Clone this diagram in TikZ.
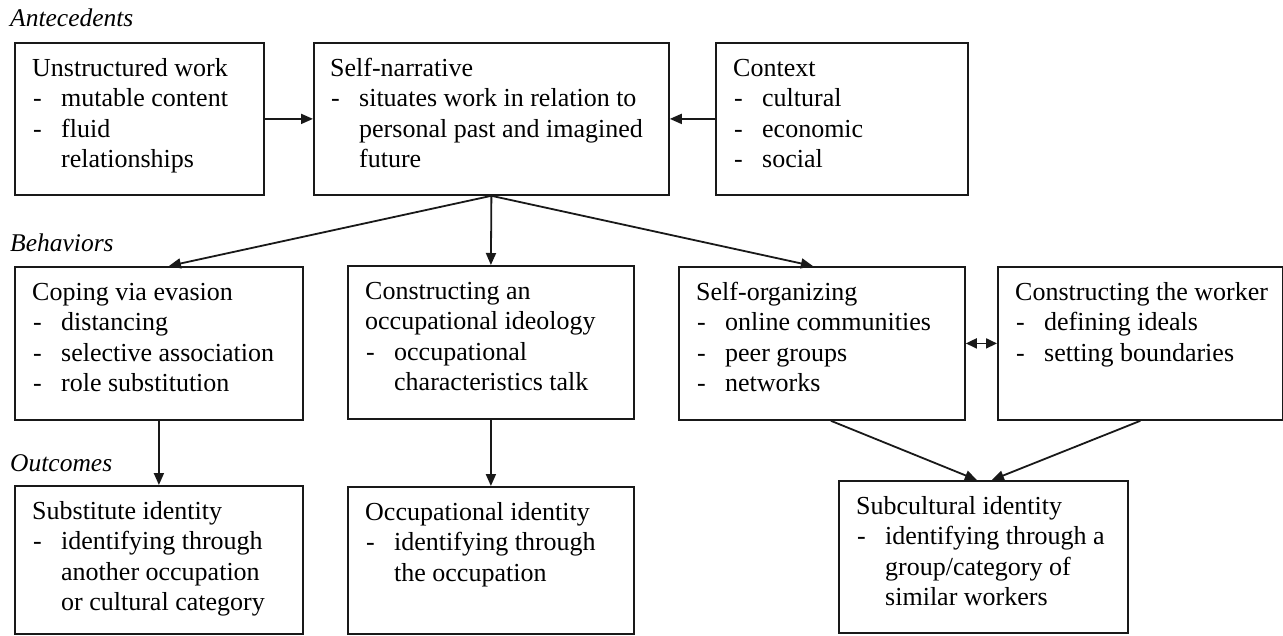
\documentclass[tikz,border=0pt]{standalone}
\usepackage{fontspec}
\setmainfont{Liberation Serif}
\usetikzlibrary{arrows.meta,calc}
\newcommand{\itm}[1]{\makebox[29pt][l]{\hspace*{1pt}-}#1}
\newcommand{\cnt}[1]{\hspace*{29pt}#1}
\tikzset{
  box/.style={draw=black!90, line width=1.8pt, inner sep=0pt, anchor=north west},
  txt/.style={anchor=base west, inner sep=0pt, font=\fontsize{26}{30.5}\selectfont},
  lbl/.style={anchor=base west, inner sep=0pt, font=\fontsize{25.5}{30}\selectfont\itshape},
  arr/.style={line width=1.8pt, draw=black!90, -{Triangle[length=12pt,width=10pt]}},
  darr/.style={line width=1.8pt, draw=black!90, {Triangle[length=11pt,width=10pt]}-{Triangle[length=11pt,width=10pt]}}
}
\newcommand{\boxtext}[2]{\begin{tabular}[t]{@{}l@{}}#2\end{tabular}}
\begin{document}
\begin{tikzpicture}[x=1pt,y=-1pt]
\useasboundingbox (0,0) rectangle (1283,635);
% section labels
\node[lbl] (lantec) at (10,26) {Antecedents};
\node[lbl] (lbehav) at (10,251) {Behaviors};
\node[lbl] (loutc) at (10,471) {Outcomes};
% boxes
\node[box, minimum width=249pt, minimum height=152pt] (ub) at (14,42) {};
\node[box, minimum width=355pt, minimum height=152pt] (sn) at (313,42) {};
\node[box, minimum width=252pt, minimum height=152pt] (ctx) at (715,42) {};
\node[box, minimum width=288pt, minimum height=153pt] (cope) at (14,266) {};
\node[box, minimum width=286pt, minimum height=153pt] (ideo) at (347,265) {};
\node[box, minimum width=286pt, minimum height=153pt] (sorg) at (678,266) {};
\node[box, minimum width=285pt, minimum height=153pt] (wrk) at (997,266) {};
\node[box, minimum width=288pt, minimum height=148pt] (subst) at (14,485) {};
\node[box, minimum width=286pt, minimum height=147pt] (occ) at (347,486) {};
\node[box, minimum width=289pt, minimum height=152pt] (subc) at (838,480) {};
% texts
\node[txt] (tub) at ([xshift=18pt,yshift=-34pt]ub.north west) {\boxtext{}{Unstructured work\\ \itm{mutable content}\\ \itm{fluid}\\ \cnt{relationships}}};
\node[txt] (tsn) at ([xshift=17pt,yshift=-34pt]sn.north west) {\boxtext{}{Self-narrative\\ \itm{situates work in relation to}\\ \cnt{personal past and imagined}\\ \cnt{future}}};
\node[txt] (tctx) at ([xshift=18pt,yshift=-34pt]ctx.north west) {\boxtext{}{Context\\ \itm{cultural}\\ \itm{economic}\\ \itm{social}}};
\node[txt] (tcope) at ([xshift=18pt,yshift=-34pt]cope.north west) {\boxtext{}{Coping via evasion\\ \itm{distancing}\\ \itm{selective association}\\ \itm{role substitution}}};
\node[txt] (tideo) at ([xshift=18pt,yshift=-34pt]ideo.north west) {\boxtext{}{Constructing an\\ occupational ideology\\ \itm{occupational}\\ \cnt{characteristics talk}}};
\node[txt] (tsorg) at ([xshift=18pt,yshift=-34pt]sorg.north west) {\boxtext{}{Self-organizing\\ \itm{online communities}\\ \itm{peer groups}\\ \itm{networks}}};
\node[txt] (twrk) at ([xshift=18pt,yshift=-34pt]wrk.north west) {\boxtext{}{Constructing the worker\\ \itm{defining ideals}\\ \itm{setting boundaries}}};
\node[txt] (tsubst) at ([xshift=18pt,yshift=-34pt]subst.north west) {\boxtext{}{Substitute identity\\ \itm{identifying through}\\ \cnt{another occupation}\\ \cnt{or cultural category}}};
\node[txt] (tocc) at ([xshift=18pt,yshift=-34pt]occ.north west) {\boxtext{}{Occupational identity\\ \itm{identifying through}\\ \cnt{the occupation}}};
\node[txt] (tsubc) at ([xshift=18pt,yshift=-34pt]subc.north west) {\boxtext{}{Subcultural identity\\ \itm{identifying through a}\\ \cnt{group/category of}\\ \cnt{similar workers}}};
% connectors
\draw[arr] (ub.east) -- (sn.west);
\draw[arr] (ctx.west) -- (sn.east);
\draw[arr] (sn.south) -- ([xshift=10pt]cope.north);
\draw[arr] (sn.south) -- (ideo.north);
\draw[arr] (sn.south) -- ([xshift=-9pt]sorg.north);
\draw[darr] (sorg.east) -- (wrk.west);
\draw[arr] (cope.south) -- (subst.north);
\draw[arr] (ideo.south) -- (occ.north);
\draw[arr] ([xshift=9pt]sorg.south) -- ([xshift=-6.5pt]subc.north);
\draw[arr] (wrk.south) -- ([xshift=8.5pt]subc.north);
\end{tikzpicture}
\end{document}
